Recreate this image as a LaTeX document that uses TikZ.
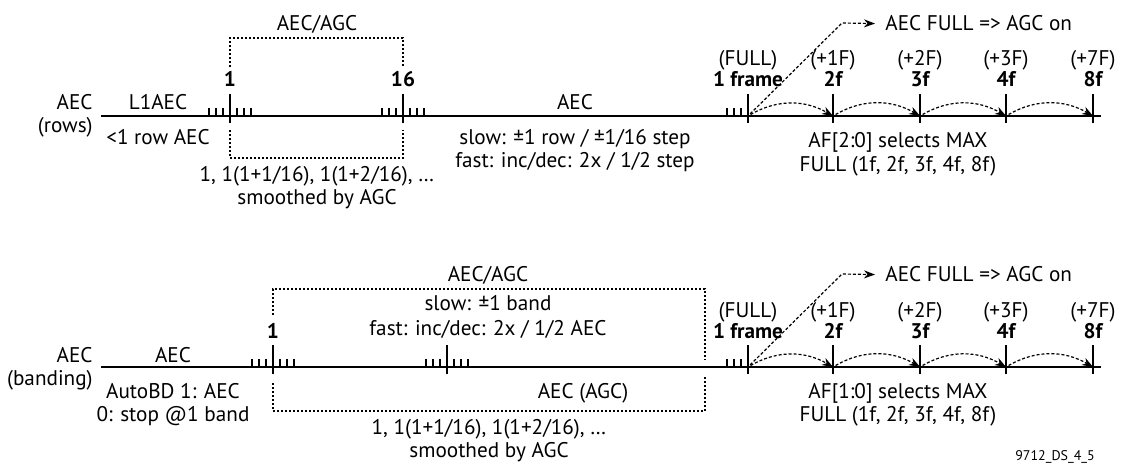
\documentclass[tikz,border=0pt]{standalone}
\usepackage{fontspec}
\setmainfont{PT Sans}
\usepackage{tikz}
\usetikzlibrary{arrows.meta,calc}

\tikzset{
  txt/.style={inner sep=0pt,anchor=base,font=\fontsize{10.6}{12}\selectfont},
  num/.style={txt,font=\fontsize{10.6}{12}\selectfont\bfseries},
  axis/.style={line width=1.1pt},
  bigtick/.style={line width=1.2pt},
  smalltick/.style={line width=0.8pt},
  dotbox/.style={line width=0.6pt,dash pattern=on 1pt off 1pt},
  hop/.style={->,line width=0.6pt,dash pattern=on 1.5pt off 1pt,
    >={Stealth[length=5.5pt,width=4pt]}},
}

\begin{document}
\begin{tikzpicture}[x=0.5pt,y=-0.5pt]
  \useasboundingbox (0,0) rectangle (1127,464);
  % AEC (rows)
  \coordinate (R0) at (101,116);
  \coordinate (R9) at (1101,116);
  \coordinate (R1) at (230,116);
  \coordinate (R16) at (403,116);
  \coordinate (RF1) at (748,116);
  \coordinate (RF2) at (833,116);
  \coordinate (RF3) at (920,116);
  \coordinate (RF4) at (1006,116);
  \coordinate (RF8) at (1093,116);
  \coordinate (RK) at (842,23);
  \draw[axis] (R0) -- (R9);
  \foreach \t in {R1,R16,RF1,RF2,RF3,RF4,RF8}
    \draw[bigtick] ($(\t)+(0,-22)$) -- ($(\t)+(0,7)$);
  \foreach \t in {R1,R16}
    \foreach \d in {-21,-14,-7,7,14,21}
      \draw[smalltick] ($(\t)+(\d,0)$) -- ++(0,-8);
  \foreach \d in {-21,-14,-7}
    \draw[smalltick] ($(RF1)+(\d,0)$) -- ++(0,-8);
  \node[txt,anchor=base east] (Ra) at (93,110) {AEC};
  \node[txt,anchor=base east] (Rb) at (93,133) {(rows)};
  \node[txt] (Rl1) at (158,110) {L1AEC};
  \node[txt] (Rl2) at (158,145) {<1 row AEC};
  \node[num] (R1t) at (230,87) {1};
  \node[num] (R16t) at (403,87) {16};
  \node[txt] (Rg) at (317,31) {AEC/AGC};
  \node[txt] (Rs1) at (317,182) {1, 1(1+1/16), 1(1+2/16), \dots};
  \node[txt] (Rs2) at (317,205) {smoothed by AGC};
  \node[txt] (Rm) at (575,110) {AEC};
  \node[txt] (Rm1) at (575,145) {slow: ±1 row / ±1/16 step};
  \node[txt] (Rm2) at (575,168) {fast: inc/dec: 2x / 1/2 step};
  \node[txt] (RF1a) at (748,66) {(FULL)};
  \node[num] (RF1b) at (748,87) {1 frame};
  \foreach \t/\a/\b in {RF2/+1F/2f,RF3/+2F/3f,RF4/+3F/4f,RF8/+7F/8f}{
    \node[txt] (\t a) at ($(\t)+(0,-50)$) {(\a)};
    \node[num] (\t b) at ($(\t)+(0,-29)$) {\b};
  }
  \node[txt] (Rx1) at (898,148) {AF[2:0] selects MAX};
  \node[txt] (Rx2) at (898,172) {FULL (1f, 2f, 3f, 4f, 8f)};
  \node[txt,anchor=base west] (RN) at (885,31) {AEC FULL => AGC on};
  \draw[dotbox] ($(R1)+(0,-49)$) |- ($(R16)+(0,-78)$) -- ($(R16)+(0,-49)$);
  \draw[dotbox] ($(R1)+(0,14)$) |- ($(R16)+(0,42)$) -- ($(R16)+(0,14)$);
  \path[hop,shorten <=1.5pt]
    (RF1) edge[bend left=30] (RF2)
    (RF2) edge[bend left=30] (RF3)
    (RF3) edge[bend left=30] (RF4)
    (RF4) edge[bend left=30] (RF8);
  \draw[hop,shorten <=1.5pt] (RF1) -- (RK) -- ([xshift=-5pt]RN.west);

  % AEC (banding)
  \coordinate (B0) at (101,367);
  \coordinate (B9) at (1101,367);
  \coordinate (B1) at (273,367);
  \coordinate (B2) at (447,367);
  \coordinate (BE) at (705,367);
  \coordinate (BF1) at (748,367);
  \coordinate (BF2) at (833,367);
  \coordinate (BF3) at (920,367);
  \coordinate (BF4) at (1006,367);
  \coordinate (BF8) at (1093,367);
  \coordinate (BK) at (842,274);
  \draw[axis] (B0) -- (B9);
  \foreach \t in {B1,B2,BF1,BF2,BF3,BF4,BF8}
    \draw[bigtick] ($(\t)+(0,-22)$) -- ($(\t)+(0,7)$);
  \foreach \t in {B1,B2}
    \foreach \d in {-21,-14,-7,7,14,21}
      \draw[smalltick] ($(\t)+(\d,0)$) -- ++(0,-8);
  \foreach \d in {-21,-14,-7}
    \draw[smalltick] ($(BF1)+(\d,0)$) -- ++(0,-8);
  \node[txt,anchor=base east] (Ba) at (93,362) {AEC};
  \node[txt,anchor=base east] (Bb) at (93,385) {(banding)};
  \node[txt] (Bl) at (173,362) {AEC};
  \node[txt] (Bl1) at (173,398) {AutoBD 1: AEC};
  \node[txt] (Bl2) at (173,421) {0: stop @1 band};
  \node[num] (B1t) at (273,338) {1};
  \node[txt] (Bg) at (488,282) {AEC/AGC};
  \node[txt] (Bg1) at (488,310) {slow: ±1 band};
  \node[txt] (Bg2) at (488,335) {fast: inc/dec: 2x / 1/2 AEC};
  \node[txt] (Bm) at (583,398) {AEC (AGC)};
  \node[txt] (Bs1) at (489,434) {1, 1(1+1/16), 1(1+2/16), \dots};
  \node[txt] (Bs2) at (489,457) {smoothed by AGC};
  \node[txt] (BF1a) at (748,317) {(FULL)};
  \node[num] (BF1b) at (748,338) {1 frame};
  \foreach \t/\a/\b in {BF2/+1F/2f,BF3/+2F/3f,BF4/+3F/4f,BF8/+7F/8f}{
    \node[txt] (\t a) at ($(\t)+(0,-50)$) {(\a)};
    \node[num] (\t b) at ($(\t)+(0,-29)$) {\b};
  }
  \node[txt] (Bx1) at (898,398) {AF[1:0] selects MAX};
  \node[txt] (Bx2) at (898,421) {FULL (1f, 2f, 3f, 4f, 8f)};
  \node[txt,anchor=base west] (BN) at (885,282) {AEC FULL => AGC on};
  \draw[dotbox] ($(B1)+(0,-52)$) |- ($(BE)+(0,-78)$) -- ($(BE)+(0,-7)$);
  \draw[dotbox] ($(B1)+(0,16)$) |- ($(BE)+(0,44)$) -- ($(BE)+(0,8)$);
  \path[hop,shorten <=1.5pt]
    (BF1) edge[bend left=30] (BF2)
    (BF2) edge[bend left=30] (BF3)
    (BF3) edge[bend left=30] (BF4)
    (BF4) edge[bend left=30] (BF8);
  \draw[hop,shorten <=1.5pt] (BF1) -- (BK) -- ([xshift=-5pt]BN.west);

  \node[txt,font=\fontsize{7}{8}\selectfont] (id) at (1055,460) {9712\_DS\_4\_5};
\end{tikzpicture}
\end{document}
